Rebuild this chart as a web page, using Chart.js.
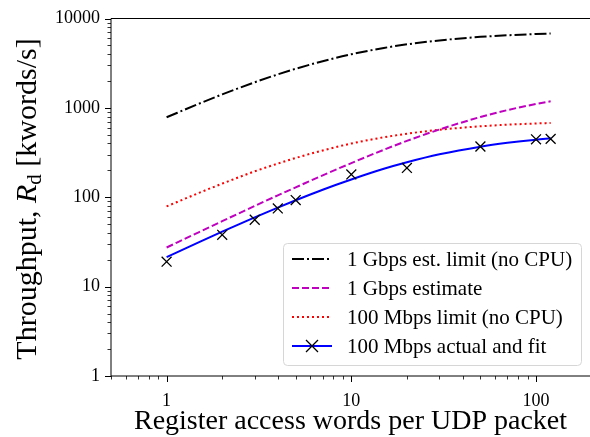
<!DOCTYPE html>
<html>
<head>
<meta charset="UTF-8">
<script src="https://cdn.jsdelivr.net/npm/chart.js"></script>
<style>
  html, body { margin: 0; padding: 0; background: #fff; }
  #wrap { width: 590px; height: 437px; }
</style>
</head>
<body>
<div id="wrap"><canvas id="c" width="590" height="437"></canvas></div>
<script>
// values
const xCurve = [1, 1.5, 2, 3, 4, 5, 7, 10, 15, 20, 30, 50, 70, 100, 120];
const gbpsLimit = [785, 1115, 1415, 1935, 2370, 2740, 3330, 3980, 4680, 5140, 5690, 6230, 6490, 6700, 6790];
const gbpsEstimate = [27.4, 40.8, 54, 80, 105, 129, 176, 241, 340, 427, 573, 790, 944, 1105, 1184];
const mbpsLimit = [79, 112, 142, 195, 238, 275, 334, 399, 469, 514, 569, 622, 648, 669, 678];
const mbpsFit = [21.4, 31.5, 41.2, 59.6, 76.7, 92.6, 121.5, 158, 208, 246, 302, 368, 406, 441, 456];
const xMeasured = [1, 2, 3, 4, 5, 10, 20, 50, 100, 120];
const mbpsMeasured = [19, 38, 56, 75, 93, 180, 213, 370, 445, 450];

const xTickLabels = [1, 10, 100];
const yTickLabels = [1, 10, 100, 1000, 10000];
const labels = ['1 Gbps est. limit (no CPU)', '1 Gbps estimate', '100 Mbps limit (no CPU)', '100 Mbps actual and fit'];

const FONT = '"Liberation Serif", "DejaVu Serif", serif';
const pts = (xs, ys) => xs.map((x, i) => ({ x: x, y: ys[i] }));
const near = (v, list) => list.some(t => Math.abs(v - t) < 1e-6 * t);
const isLogTick = v => { const m = v / Math.pow(10, Math.floor(Math.log10(v) + 1e-9)); return Math.abs(m - Math.round(m)) < 1e-6; };

const curve = (label, data, color, dash) => ({
  label, data, borderColor: color, borderWidth: 2, borderDash: dash,
  pointRadius: 0, showLine: true, fill: false, cubicInterpolationMode: 'monotone'
});

const frame = {
  id: 'frame',
  afterDraw(chart) {
    const { ctx, chartArea: a, scales: { x, y } } = chart;
    ctx.save();
    ctx.strokeStyle = '#000';
    ctx.lineWidth = 1;
    ctx.beginPath();
    ctx.moveTo(a.right + 1, a.top); ctx.lineTo(a.left, a.top);
    ctx.lineTo(a.left, a.bottom); ctx.lineTo(a.right + 1, a.bottom);
    ctx.stroke();
    y.ticks.forEach(t => {
      if (!isLogTick(t.value) || t.value < y.min || t.value > y.max) return;
      const p = Math.round(y.getPixelForValue(t.value)) + 0.5;
      const len = near(t.value, yTickLabels) ? 6 : 3.5;
      ctx.lineWidth = near(t.value, yTickLabels) ? 1 : 0.8;
      ctx.beginPath(); ctx.moveTo(a.left - len, p); ctx.lineTo(a.left, p); ctx.stroke();
    });
    x.ticks.forEach(t => {
      if (!isLogTick(t.value) || t.value < x.min || t.value > x.max) return;
      const p = Math.round(x.getPixelForValue(t.value)) + 0.5;
      const len = near(t.value, xTickLabels) ? 6 : 3.5;
      ctx.lineWidth = near(t.value, xTickLabels) ? 1 : 0.8;
      ctx.beginPath(); ctx.moveTo(p, a.bottom); ctx.lineTo(p, a.bottom + len); ctx.stroke();
    });

    // axis titles
    ctx.fillStyle = '#000';
    ctx.textAlign = 'center';
    ctx.textBaseline = 'alphabetic';
    ctx.font = '28px ' + FONT;
    ctx.fillText('Register access words per UDP packet', (a.left + a.right) / 2, 429);

    const parts = [
      { t: 'Throughput, ', f: '30px ' + FONT, dy: 0 },
      { t: 'R', f: 'italic 30px ' + FONT, dy: 0 },
      { t: 'd', f: '21px ' + FONT, dy: 5 },
      { t: ' [kwords/s]', f: '30px ' + FONT, dy: 0 }
    ];
    let total = 0;
    parts.forEach(p => { ctx.font = p.f; p.w = ctx.measureText(p.t).width; total += p.w; });
    ctx.translate(36, 199);
    ctx.rotate(-Math.PI / 2);
    ctx.textAlign = 'left';
    let cx = -total / 2;
    parts.forEach(p => { ctx.font = p.f; ctx.fillText(p.t, cx, p.dy); cx += p.w; });
    ctx.restore();

    // legend
    ctx.save();
    const bx = 283.5, by = 243.5, bw = 298, bh = 122;
    ctx.beginPath();
    ctx.roundRect(bx, by, bw, bh, 4);
    ctx.fillStyle = 'rgba(255,255,255,0.8)';
    ctx.fill();
    ctx.strokeStyle = '#d6d6d6';
    ctx.lineWidth = 1;
    ctx.stroke();
    const ds = chart.data.datasets;
    ctx.font = '21px ' + FONT;
    ctx.textBaseline = 'middle';
    labels.forEach((lab, i) => {
      const ly = 259 + i * 29;
      const d = ds[i];
      ctx.strokeStyle = d.borderColor;
      ctx.lineWidth = d.borderWidth;
      ctx.setLineDash(d.borderDash || []);
      ctx.beginPath(); ctx.moveTo(292, ly); ctx.lineTo(332, ly); ctx.stroke();
      ctx.setLineDash([]);
      if (i === 3) {
        const m = ds[4], r = 6;
        ctx.strokeStyle = m.pointBorderColor;
        ctx.lineWidth = m.pointBorderWidth;
        ctx.beginPath();
        ctx.moveTo(312 - r, ly - r); ctx.lineTo(312 + r, ly + r);
        ctx.moveTo(312 - r, ly + r); ctx.lineTo(312 + r, ly - r);
        ctx.stroke();
      }
      ctx.fillStyle = '#000';
      ctx.fillText(lab, 347, ly + 1);
    });
    ctx.restore();
  }
};

new Chart(document.getElementById('c'), {
  type: 'scatter',
  data: {
    datasets: [
      curve(labels[0], pts(xCurve, gbpsLimit), '#000000', [12, 3, 2, 3]),
      curve(labels[1], pts(xCurve, gbpsEstimate), '#bf00bf', [7, 3]),
      curve(labels[2], pts(xCurve, mbpsLimit), '#ff0000', [2, 3]),
      curve(labels[3], pts(xCurve, mbpsFit), '#0000ff', []),
      {
        label: '100 Mbps actual', data: pts(xMeasured, mbpsMeasured), showLine: false,
        pointStyle: 'crossRot', pointRadius: 7, pointBorderWidth: 1.3,
        pointBorderColor: '#000', pointBackgroundColor: '#000', order: -1
      }
    ]
  },
  options: {
    responsive: false,
    animation: false,
    layout: { autoPadding: false, padding: { top: 18.5, right: 0, left: 0, bottom: 0 } },
    plugins: { legend: { display: false }, tooltip: { enabled: false } },
    scales: {
      x: {
        type: 'logarithmic', min: 0.5, max: 196,
        grid: { display: false, drawTicks: true, tickLength: 14 }, border: { display: false },
        afterFit: s => { s.height = 61; },
        ticks: {
          autoSkip: false, maxRotation: 0, padding: 0, color: '#000',
          font: { family: FONT, size: 18 },
          callback: v => near(v, xTickLabels) ? String(v) : ''
        }
      },
      y: {
        type: 'logarithmic', min: 1, max: 10000,
        grid: { display: false, drawTicks: true, tickLength: 11 }, border: { display: false },
        afterFit: s => { s.width = 111; },
        ticks: {
          autoSkip: false, padding: 0, color: '#000',
          font: { family: FONT, size: 18 },
          callback: v => near(v, yTickLabels) ? String(v) : ''
        }
      }
    }
  },
  plugins: [frame]
});
</script>
</body>
</html>
